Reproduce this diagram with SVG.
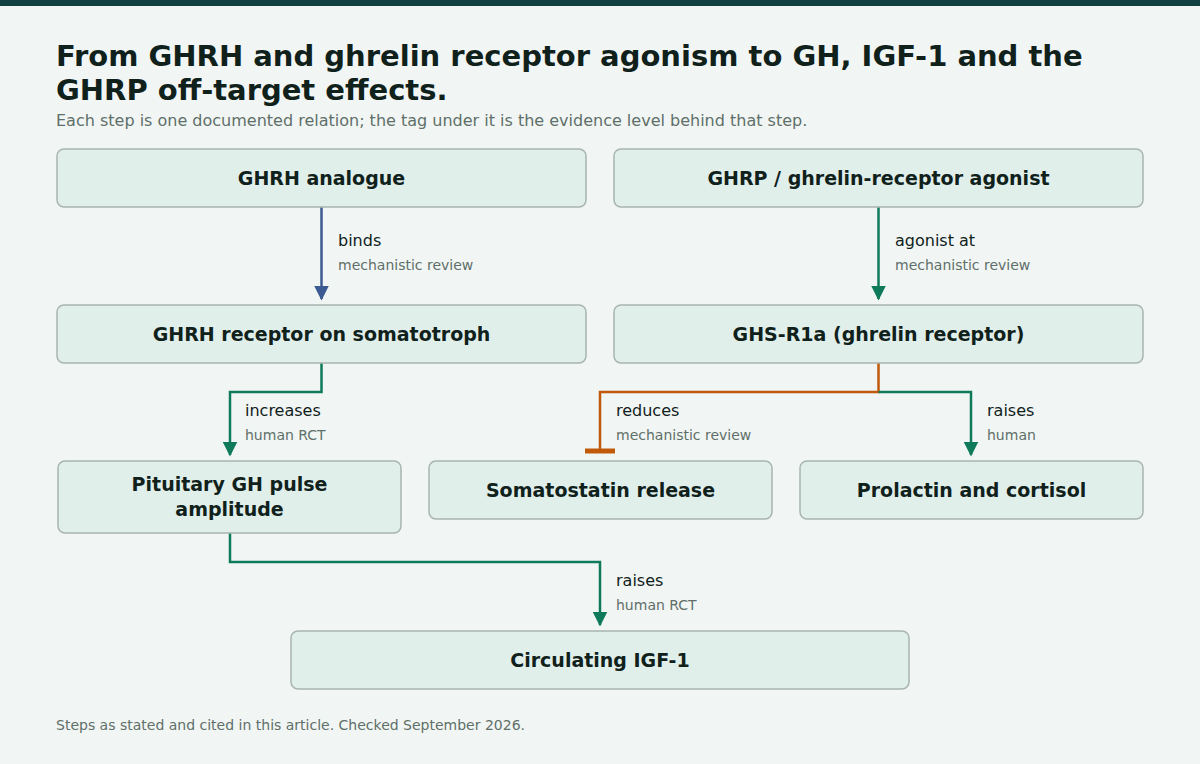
<svg xmlns="http://www.w3.org/2000/svg" width="1200" height="764" viewBox="0 0 1200 764">
<defs>
<style>
text{font-family:"DejaVu Sans",sans-serif}
.n rect{fill:#e0efea;stroke:#a8b4b0;stroke-width:1.5}
.n text{font-size:19px;font-weight:bold;fill:#10211c;text-anchor:middle}
.c{fill:none;stroke-width:2.5}
.l{font-size:16px;fill:#10211c}
.t{font-size:14px;fill:#5f6f69}
</style>
<marker id="ag" viewBox="0 0 10 10" refX="9" refY="5" markerWidth="6" markerHeight="6" markerUnits="strokeWidth" orient="auto"><path d="M0,0L10,5L0,10z" fill="#0e7a5a"/></marker>
<marker id="ab" viewBox="0 0 10 10" refX="9" refY="5" markerWidth="6" markerHeight="6" markerUnits="strokeWidth" orient="auto"><path d="M0,0L10,5L0,10z" fill="#3b5b92"/></marker>
</defs>
<rect width="1200" height="764" fill="#f1f6f4"/>
<rect width="1200" height="6" fill="#123f3f"/>
<text x="56" y="66" font-size="29" font-weight="bold" fill="#10211c">From GHRH and ghrelin receptor agonism to GH, IGF-1 and the</text>
<text x="56" y="100" font-size="29" font-weight="bold" fill="#10211c">GHRP off-target effects.</text>
<text x="56" y="126" font-size="16" fill="#5f6f69">Each step is one documented relation; the tag under it is the evidence level behind that step.</text>
<g id="connectors">
<path class="c" stroke="#3b5b92" d="M321.5,207V299" marker-end="url(#ab)"/>
<text class="l" x="338" y="246">binds</text><text class="t" x="338" y="270">mechanistic review</text>
<path class="c" stroke="#0e7a5a" d="M878.5,207V299" marker-end="url(#ag)"/>
<text class="l" x="895" y="246">agonist at</text><text class="t" x="895" y="270">mechanistic review</text>
<path class="c" stroke="#0e7a5a" d="M321.5,363V392H230V455" marker-end="url(#ag)"/>
<text class="l" x="245" y="416">increases</text><text class="t" x="245" y="440">human RCT</text>
<path class="c" stroke="#c05a0a" d="M878.5,363V392H600V451M585,451H615"/>
<path stroke="#c05a0a" stroke-width="5" d="M585,451H615"/>
<text class="l" x="616" y="416">reduces</text><text class="t" x="616" y="440">mechanistic review</text>
<path class="c" stroke="#0e7a5a" d="M878.5,392H971V455" marker-end="url(#ag)"/>
<text class="l" x="987" y="416">raises</text><text class="t" x="987" y="440">human</text>
<path class="c" stroke="#0e7a5a" d="M230,533V562H600V625" marker-end="url(#ag)"/>
<text class="l" x="616" y="586">raises</text><text class="t" x="616" y="610">human RCT</text>
</g>
<g id="n1" class="n"><rect x="57" y="149" width="529" height="58" rx="7"/><text x="321.5" y="185">GHRH analogue</text></g>
<g id="n2" class="n"><rect x="614" y="149" width="529" height="58" rx="7"/><text x="878.5" y="185">GHRP / ghrelin-receptor agonist</text></g>
<g id="n3" class="n"><rect x="57" y="305" width="529" height="58" rx="7"/><text x="321.5" y="341">GHRH receptor on somatotroph</text></g>
<g id="n4" class="n"><rect x="614" y="305" width="529" height="58" rx="7"/><text x="878.5" y="341">GHS-R1a (ghrelin receptor)</text></g>
<g id="n5" class="n"><rect x="58" y="461" width="343" height="72" rx="7"/><text x="229.5" y="491">Pituitary GH pulse</text><text x="229.5" y="516">amplitude</text></g>
<g id="n6" class="n"><rect x="429" y="461" width="343" height="58" rx="7"/><text x="600.5" y="497">Somatostatin release</text></g>
<g id="n7" class="n"><rect x="800" y="461" width="343" height="58" rx="7"/><text x="971.5" y="497">Prolactin and cortisol</text></g>
<g id="n8" class="n"><rect x="291" y="631" width="618" height="58" rx="7"/><text x="600" y="667">Circulating IGF-1</text></g>
<text x="56" y="730" font-size="14" fill="#5f6f69">Steps as stated and cited in this article. Checked September 2026.</text>
</svg>
